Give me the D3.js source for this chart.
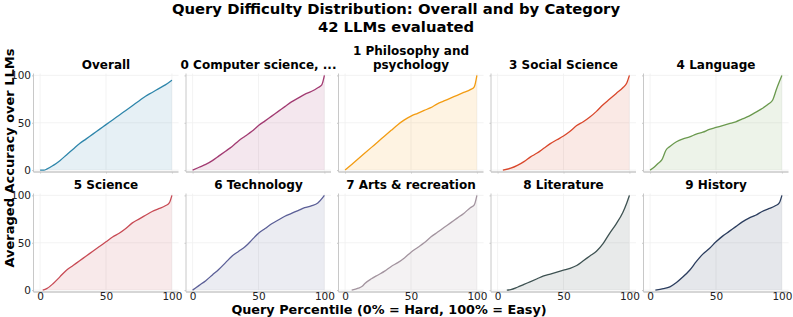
<!DOCTYPE html>
<html>
<head>
<meta charset="utf-8">
<script src="https://cdn.jsdelivr.net/npm/d3@7"></script>
<style>
  body { margin: 0; background: #fff; }
  text { font-family: "DejaVu Sans", sans-serif; }
</style>
</head>
<body>
<div id="chart"></div>
<script>
// percentile, averaged accuracy
const overall    = [[0,0],[3,0],[5,1],[10,5],[15,10],[20,16],[25,22],[30,28],[35,33],[40,38],[45,43],[50,48],[55,53],[60,58],[65,63],[70,68],[75,73],[80,78],[85,82],[90,86],[95,90],[100,95]];
const compSci    = [[0,0],[5,3],[10,6],[15,10],[20,15],[25,20],[30,25],[35,31],[40,36],[45,41],[50,47],[55,52],[60,57],[65,62],[70,67],[75,72],[80,76],[85,80],[90,83],[95,87],[98,90],[100,100]];
const philosophy = [[0,0],[5,6],[10,12],[15,18],[20,24],[25,30],[30,36],[35,42],[40,48],[45,53],[50,57],[55,60],[60,63],[65,66],[70,70],[75,73],[80,76],[85,79],[90,82],[95,85],[98,88],[100,100]];
const socialSci  = [[4,0],[10,2],[15,5],[20,9],[25,14],[30,18],[35,23],[40,28],[45,32],[50,36],[55,41],[60,47],[65,51],[70,56],[75,62],[80,69],[85,75],[90,81],[95,87],[98,92],[100,100]];
const language   = [[0,0],[3,3],[6,7],[9,11],[12,21],[15,25],[20,30],[25,33],[30,35],[35,38],[40,40],[45,43],[50,45],[55,47],[60,49],[65,51],[70,54],[75,57],[80,61],[85,65],[90,70],[93,74],[96,86],[100,100]];
const science    = [[2,0],[5,1.5],[10,7],[15,14],[20,21],[25,26],[30,31],[35,36],[40,41],[45,46],[50,51],[55,56],[60,60],[65,65],[70,71],[75,75],[80,79],[85,83],[90,86],[95,89],[98,92],[100,100]];
const technology = [[0,0],[5,5],[10,10],[15,16],[20,22],[25,29],[30,36],[35,41],[40,46],[45,53],[50,60],[55,65],[60,70],[65,74],[70,78],[75,81],[80,84],[85,87],[90,89],[95,92],[100,100]];
const arts       = [[5,0],[10,2],[13,4],[15,7],[20,12],[25,16],[30,20],[35,25],[40,29],[45,34],[50,40],[55,45],[60,50],[65,56],[70,61],[75,66],[80,71],[85,76],[90,81],[95,87],[98,90],[100,100]];
const literature = [[7,0],[10,0.5],[15,3],[20,6],[25,9],[30,12],[35,15],[40,17],[45,19],[50,21],[55,23],[60,26],[65,31],[70,36],[75,41],[80,49],[85,60],[90,70],[95,82],[98,92],[100,100]];
const history    = [[4,0],[10,1.5],[15,3.5],[20,8],[25,14],[30,21],[35,30],[40,38],[45,44],[50,51],[55,57],[60,62],[65,67],[70,72],[75,76],[80,79],[85,83],[90,86],[95,89],[98,92],[100,100]];

const titles = ["Overall", "0 Computer science, ...", "1 Philosophy and\npsychology", "3 Social Science", "4 Language",
                "5 Science", "6 Technology", "7 Arts & recreation", "8 Literature", "9 History"];
const seriesList = [overall, compSci, philosophy, socialSci, language, science, technology, arts, literature, history];
const colors = ["#2e86ab", "#a23b72", "#f39c12", "#d9472b", "#6a994e", "#c84b55", "#5b5f97", "#a3949f", "#3e5252", "#2b3d5e"];
const ticks = [0, 50, 100];

const W = 793, H = 317;
const svg = d3.select("#chart").append("svg").attr("width", W).attr("height", H);

const panelW = 145, colStep = 152.5, firstLeft = 33.5;
const rows = [{ top: 73.5, bottom: 172 }, { top: 193.5, bottom: 292 }];

const x = d3.scaleLinear().domain([-5, 105]).range([0, panelW]);

// main title
svg.append("text").attr("x", 396).attr("y", 14).attr("text-anchor", "middle")
  .attr("font-size", "14.8px").attr("font-weight", "bold")
  .text("Query Difficulty Distribution: Overall and by Category");
svg.append("text").attr("x", 396).attr("y", 31.5).attr("text-anchor", "middle")
  .attr("font-size", "14.8px").attr("font-weight", "bold")
  .text("42 LLMs evaluated");

// axis labels
svg.append("text").attr("x", 389).attr("y", 314).attr("text-anchor", "middle")
  .attr("font-size", "12.8px").attr("font-weight", "bold")
  .text("Query Percentile (0% = Hard, 100% = Easy)");
svg.append("text").attr("transform", "translate(14,158) rotate(-90)").attr("text-anchor", "middle")
  .attr("font-size", "13px").attr("font-weight", "bold")
  .text("Averaged Accuracy over LLMs");

seriesList.forEach((data, i) => {
  const row = Math.floor(i / 5), col = i % 5;
  const r = rows[row];
  const y = d3.scaleLinear().domain([-2, 102]).range([r.bottom - r.top, 0]);
  const g = svg.append("g")
    .attr("transform", `translate(${firstLeft + col * colStep}, ${r.top})`);
  const h = r.bottom - r.top;

  // grid
  g.selectAll(".gx").data(ticks).enter().append("line")
    .attr("x1", d => x(d)).attr("x2", d => x(d)).attr("y1", 0).attr("y2", h)
    .attr("stroke", "#f0f0f0").attr("stroke-width", 0.8);
  g.selectAll(".gy").data(ticks).enter().append("line")
    .attr("x1", 0).attr("x2", panelW).attr("y1", d => y(d)).attr("y2", d => y(d))
    .attr("stroke", "#f0f0f0").attr("stroke-width", 0.8);

  // area + line
  const area = d3.area().x(d => x(d[0])).y0(y(0)).y1(d => y(d[1])).curve(d3.curveMonotoneX);
  const line = d3.line().x(d => x(d[0])).y(d => y(d[1])).curve(d3.curveMonotoneX);
  g.append("path").datum(data).attr("d", area)
    .attr("fill", colors[i]).attr("fill-opacity", 0.12);
  g.append("path").datum(data).attr("d", line)
    .attr("fill", "none").attr("stroke", colors[i]).attr("stroke-width", 1.3);

  // y axis
  const yAxis = d3.axisLeft(y).tickValues(ticks).tickSize(1.5).tickPadding(1)
    .tickFormat(col === 0 ? d3.format("d") : "");
  const ya = g.append("g").call(yAxis);
  ya.select(".domain").attr("stroke", "#c8c8c8").attr("d", `M0,0V${h}`);
  ya.selectAll(".tick line").attr("stroke", "#c8c8c8");
  ya.selectAll(".tick text").attr("font-size", "10.5px").attr("fill", "#222")
    .attr("font-family", "DejaVu Sans, sans-serif");

  // x axis
  const xAxis = d3.axisBottom(x).tickValues(ticks).tickSize(1.5).tickPadding(0)
    .tickFormat(row === 1 ? d3.format("d") : "");
  const xa = g.append("g").attr("transform", `translate(0,${h})`).call(xAxis);
  xa.select(".domain").attr("stroke", "#c8c8c8").attr("stroke-width", 1.5).attr("d", `M0,0H${panelW}`);
  xa.selectAll(".tick line").attr("stroke", "#c8c8c8");
  xa.selectAll(".tick text").attr("font-size", "10.5px").attr("fill", "#222")
    .attr("font-family", "DejaVu Sans, sans-serif").attr("dy", "0.62em");

  // panel title
  const lines = titles[i].split("\n");
  const t = g.append("text").attr("x", panelW / 2).attr("text-anchor", "middle")
    .attr("font-size", "12px").attr("font-weight", "bold");
  lines.forEach((s, k) => {
    t.append("tspan").attr("x", panelW / 2)
      .attr("y", -5 - (lines.length - 1 - k) * 14)
      .text(s);
  });
});
</script>
</body>
</html>
